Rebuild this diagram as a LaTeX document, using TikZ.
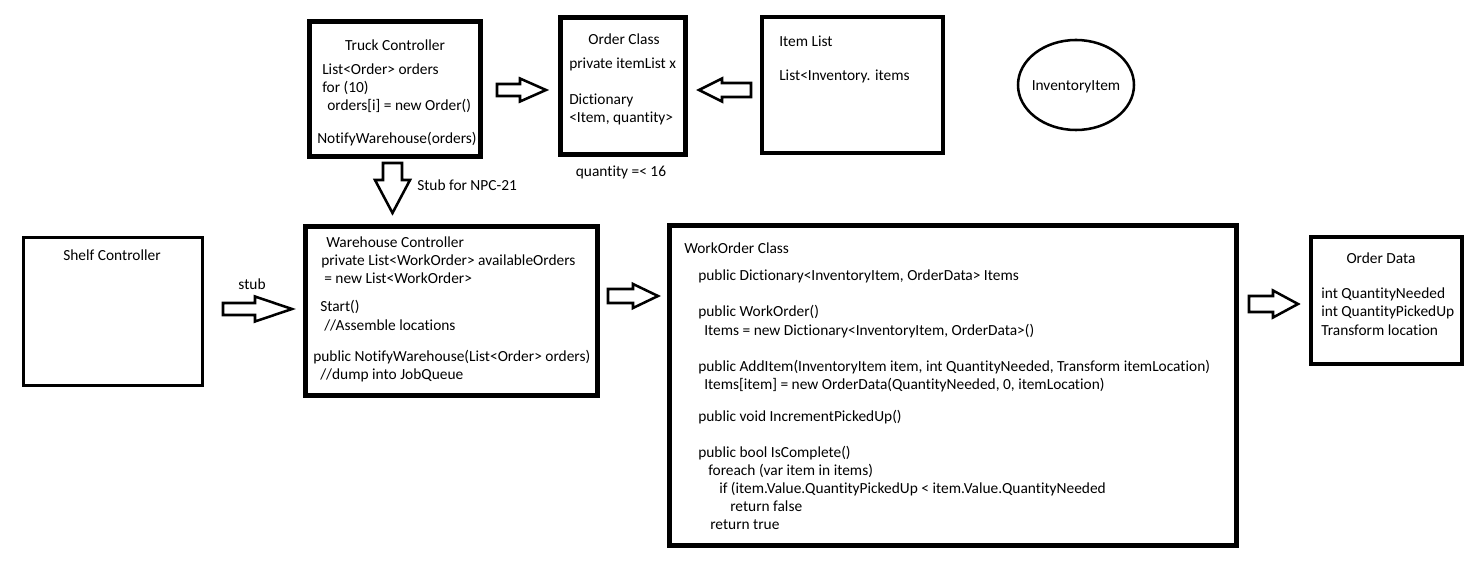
\documentclass[tikz,border=0pt]{standalone}
\usepackage{fontspec}
\setmainfont{Carlito}[Ligatures={NoCommon}]
\usetikzlibrary{fit,calc}
\newcommand\blkR[5]{\draw[blk] (#1) ++(0,-#2) -- ++(#3,0) -- ++(0,#2-#4) -- ++(#5,#4) -- ++(-#5,#4) -- ++(0,#2-#4) -- ++(-#3,0) -- cycle;}
\newcommand\blkD[5]{\draw[blk] (#1) ++(-#2,0) -- ++(0,#3) -- ++(#2-#4,0) -- ++(#4,#5) -- ++(#4,-#5) -- ++(#2-#4,0) -- ++(0,-#3) -- cycle;}
\tikzset{
  box/.style={draw=black, inner sep=0pt, line width=#1},
  blk/.style={draw=black, line width=1.9pt, fill=white, line join=miter},
  txt/.style={anchor=base west, inner sep=0pt, yshift=-0.75pt, font=\fontsize{11.55}{13.5}\selectfont},
  ctxt/.style={anchor=base, inner sep=0pt, yshift=-0.75pt, font=\fontsize{11.55}{13.5}\selectfont},
}
\begin{document}
\begin{tikzpicture}[x=0.75pt,y=-0.75pt]
\useasboundingbox (0,0) rectangle (1471,570);
\fill[white] (0,0) rectangle (1471,570);
% boxes
\coordinate (tc1) at (309.5,21.5); \coordinate (tc2) at (480.5,156.5);
\node[box=3.75pt, fit=(tc1)(tc2)] (tc) {};
\coordinate (oc1) at (560.5,17.5); \coordinate (oc2) at (685.5,154.5);
\node[box=3.75pt, fit=(oc1)(oc2)] (oc) {};
\coordinate (il1) at (762,17); \coordinate (il2) at (943,153);
\node[box=3pt, fit=(il1)(il2)] (il) {};
\coordinate (sc1) at (23.5,237.5); \coordinate (sc2) at (202.5,385.5);
\node[box=2.25pt, fit=(sc1)(sc2)] (sc) {};
\coordinate (wc1) at (305.5,226.5); \coordinate (wc2) at (597.5,395.5);
\node[box=3.75pt, fit=(wc1)(wc2)] (wc) {};
\coordinate (wo1) at (669.5,225.5); \coordinate (wo2) at (1236.5,545.5);
\node[box=3.75pt, fit=(wo1)(wo2)] (wo) {};
\coordinate (od1) at (1311,237); \coordinate (od2) at (1462,364);
\node[box=3pt, fit=(od1)(od2)] (od) {};
\draw[line width=1.9pt] (1076,85) ellipse [x radius=58, y radius=45];
\node[ctxt] (invt) at (1076,90) {InventoryItem};
% block arrows
\coordinate (a1) at (497,90); \blkR{a1}{6}{23}{11.5}{26}
\coordinate (a2) at (751,90); \blkR{a2}{7}{-29}{11.5}{-23}
\coordinate (a3) at (392.5,163); \blkD{a3}{9.5}{17}{17.5}{33}
\coordinate (a4) at (223,309); \blkR{a4}{6}{32}{12.5}{37}
\coordinate (a5) at (608,296); \blkR{a5}{7}{25}{12}{25}
\coordinate (a6) at (1249,304); \blkR{a6}{8}{24}{13.5}{25}
% Truck Controller
\node[ctxt] (tct) at (395,50) {Truck Controller};
\node[txt] (tc_a) at (322,74) {List<Order> orders};
\node[txt] (tc_b) at (322,92) {for (10)};
\node[txt] (tc_c) at (327,110) {orders[i] = new Order()};
\node[txt] (tc_d) at (317,143) {NotifyWarehouse(orders)};
% Order Class
\node[ctxt] (oct) at (624,44) {Order Class};
\node[txt] (oc_a) at (569,68) {private itemList x};
\node[txt] (oc_b) at (569,104) {Dictionary};
\node[txt] (oc_c) at (569,122) {<Item, quantity>};
\node[ctxt] (ocq) at (621,176) {quantity =< 16};
\node[txt] (stub1) at (417,190) {Stub for NPC-21};
% Item List
\node[txt] (ilt) at (779,46) {Item List};
\node[txt] (il_a) at (779,80) {List<Inventory. items};
% Shelf Controller
\node[ctxt] (sct) at (112,260) {Shelf Controller};
\node[ctxt] (stub2) at (252,289) {stub};
% Warehouse Controller
\node[txt] (wct) at (326,247) {Warehouse Controller};
\node[txt] (wc_a) at (321,265) {private List<WorkOrder> availableOrders};
\node[txt] (wc_b) at (324,283) {= new List<WorkOrder>};
\node[txt] (wc_c) at (320,311) {Start()};
\node[txt] (wc_d) at (324,329) {//Assemble locations};
\node[txt] (wc_e) at (313,361) {public NotifyWarehouse(List<Order> orders)};
\node[txt] (wc_f) at (320,378) {//dump into JobQueue};
% WorkOrder Class
\node[txt] (wot) at (684,253) {WorkOrder Class};
\node[txt] (wo_a) at (698,280) {public Dictionary<InventoryItem, OrderData> Items};
\node[txt] (wo_b) at (698,316) {public WorkOrder()};
\node[txt] (wo_c) at (704,334) {Items = new Dictionary<InventoryItem, OrderData>()};
\node[txt] (wo_d) at (698,370) {public AddItem(InventoryItem item, int QuantityNeeded, Transform itemLocation)};
\node[txt] (wo_e) at (704,388) {Items[item] = new OrderData(QuantityNeeded, 0, itemLocation)};
\node[txt] (wo_f) at (698,420) {public void IncrementPickedUp()};
\node[txt] (wo_g) at (698,456) {public bool IsComplete()};
\node[txt] (wo_h) at (708,474) {foreach (var item in items)};
\node[txt] (wo_i) at (719,492) {if (item.Value.QuantityPickedUp < item.Value.QuantityNeeded};
\node[txt] (wo_j) at (730,510) {return false};
\node[txt] (wo_k) at (710,528) {return true};
% Order Data
\node[ctxt] (odt) at (1381,263) {Order Data};
\node[txt] (od_a) at (1321,298) {int QuantityNeeded};
\node[txt] (od_b) at (1321,316) {int QuantityPickedUp};
\node[txt] (od_c) at (1321,334) {Transform location};
\end{tikzpicture}
\end{document}
